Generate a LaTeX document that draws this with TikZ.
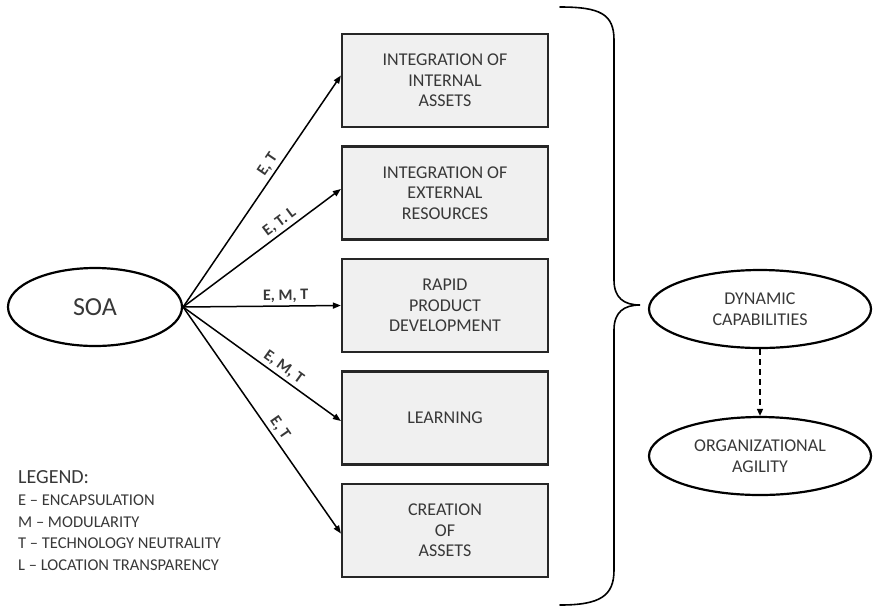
\documentclass[tikz,border=0pt]{standalone}
\usepackage{fontspec}
\setmainfont{Carlito}
\usetikzlibrary{arrows.meta,shapes.geometric}

\begin{document}
\begin{tikzpicture}[x=1pt,y=-1pt,
  txt/.style={text=black!78},
  capbox/.style={draw=black!85, line width=2.2pt, fill=black!6, txt,
    minimum width=206pt, minimum height=93pt, inner sep=0pt, align=center,
    font=\fontsize{18}{20.7}\selectfont},
  oval/.style={draw=black, ellipse, line width=2.2pt, inner sep=0pt, txt, align=center,
    font=\fontsize{18}{20.7}\selectfont},
  link/.style={line width=1.5pt, -{Triangle[length=8pt,width=6pt]}},
  lbl/.style={txt, sloped, above, inner sep=3pt, font=\fontsize{16}{18}\selectfont\bfseries}
]
\useasboundingbox (0,0) rectangle (874,606);

% source oval
\node[oval, minimum width=174pt, minimum height=78pt, font=\fontsize{26}{28}\selectfont]
  (soa) at (95,307) {SOA};

% capability boxes
\node[capbox] (b1) at (445,80.5)  {INTEGRATION OF\\INTERNAL\\ASSETS};
\node[capbox] (b2) at (445,193)   {INTEGRATION OF\\EXTERNAL\\RESOURCES};
\node[capbox] (b3) at (445,305.5) {RAPID\\PRODUCT\\DEVELOPMENT};
\node[capbox] (b4) at (445,418)   {LEARNING};
\node[capbox] (b5) at (445,530.5) {CREATION\\OF\\ASSETS};

% links with property labels
\draw[link] (soa.east) -- node[lbl, pos=0.59] {E, T} ([yshift=5pt]b1.west);
\draw[link] (soa.east) -- node[lbl, pos=0.65] {E, T. L} ([yshift=4pt]b2.west);
\draw[link] (soa.east) -- node[lbl, pos=0.65] {E, M, T} (b3.west);
\draw[link] (soa.east) -- node[lbl, pos=0.6] {E, M, T} ([yshift=-3pt]b4.west);
\draw[link] (soa.east) -- node[lbl, pos=0.56] {E, T} ([yshift=-3pt]b5.west);

% grouping brace
\draw[line width=1.6pt, line cap=round]
  (560,7) .. controls (600,7) and (614,14) .. (614,40)
  -- (614,280) .. controls (614,298) and (624,305) .. (640,305)
  .. controls (624,305) and (614,312) .. (614,330)
  -- (614,570) .. controls (614,596) and (600,605) .. (560,605);

% outcome ovals
\node[oval, minimum width=222pt, minimum height=78pt] (dc) at (760,309) {DYNAMIC\\CAPABILITIES};
\node[oval, minimum width=222pt, minimum height=78pt] (oa) at (760,456) {ORGANIZATIONAL\\AGILITY};
\draw[line width=1.5pt, dash pattern=on 6pt off 4pt, -{Triangle[length=7pt,width=6pt]}] (dc) -- (oa);

% legend
\node[txt, anchor=north west, align=left, inner sep=0pt,
      font=\fontsize{16.5}{21.5}\selectfont] (legend) at (18,470) {%
  {\fontsize{20}{24}\selectfont LEGEND:}\\[1pt]
  E -- ENCAPSULATION\\
  M -- MODULARITY\\
  T -- TECHNOLOGY NEUTRALITY\\
  L -- LOCATION TRANSPARENCY};
\end{tikzpicture}
\end{document}
